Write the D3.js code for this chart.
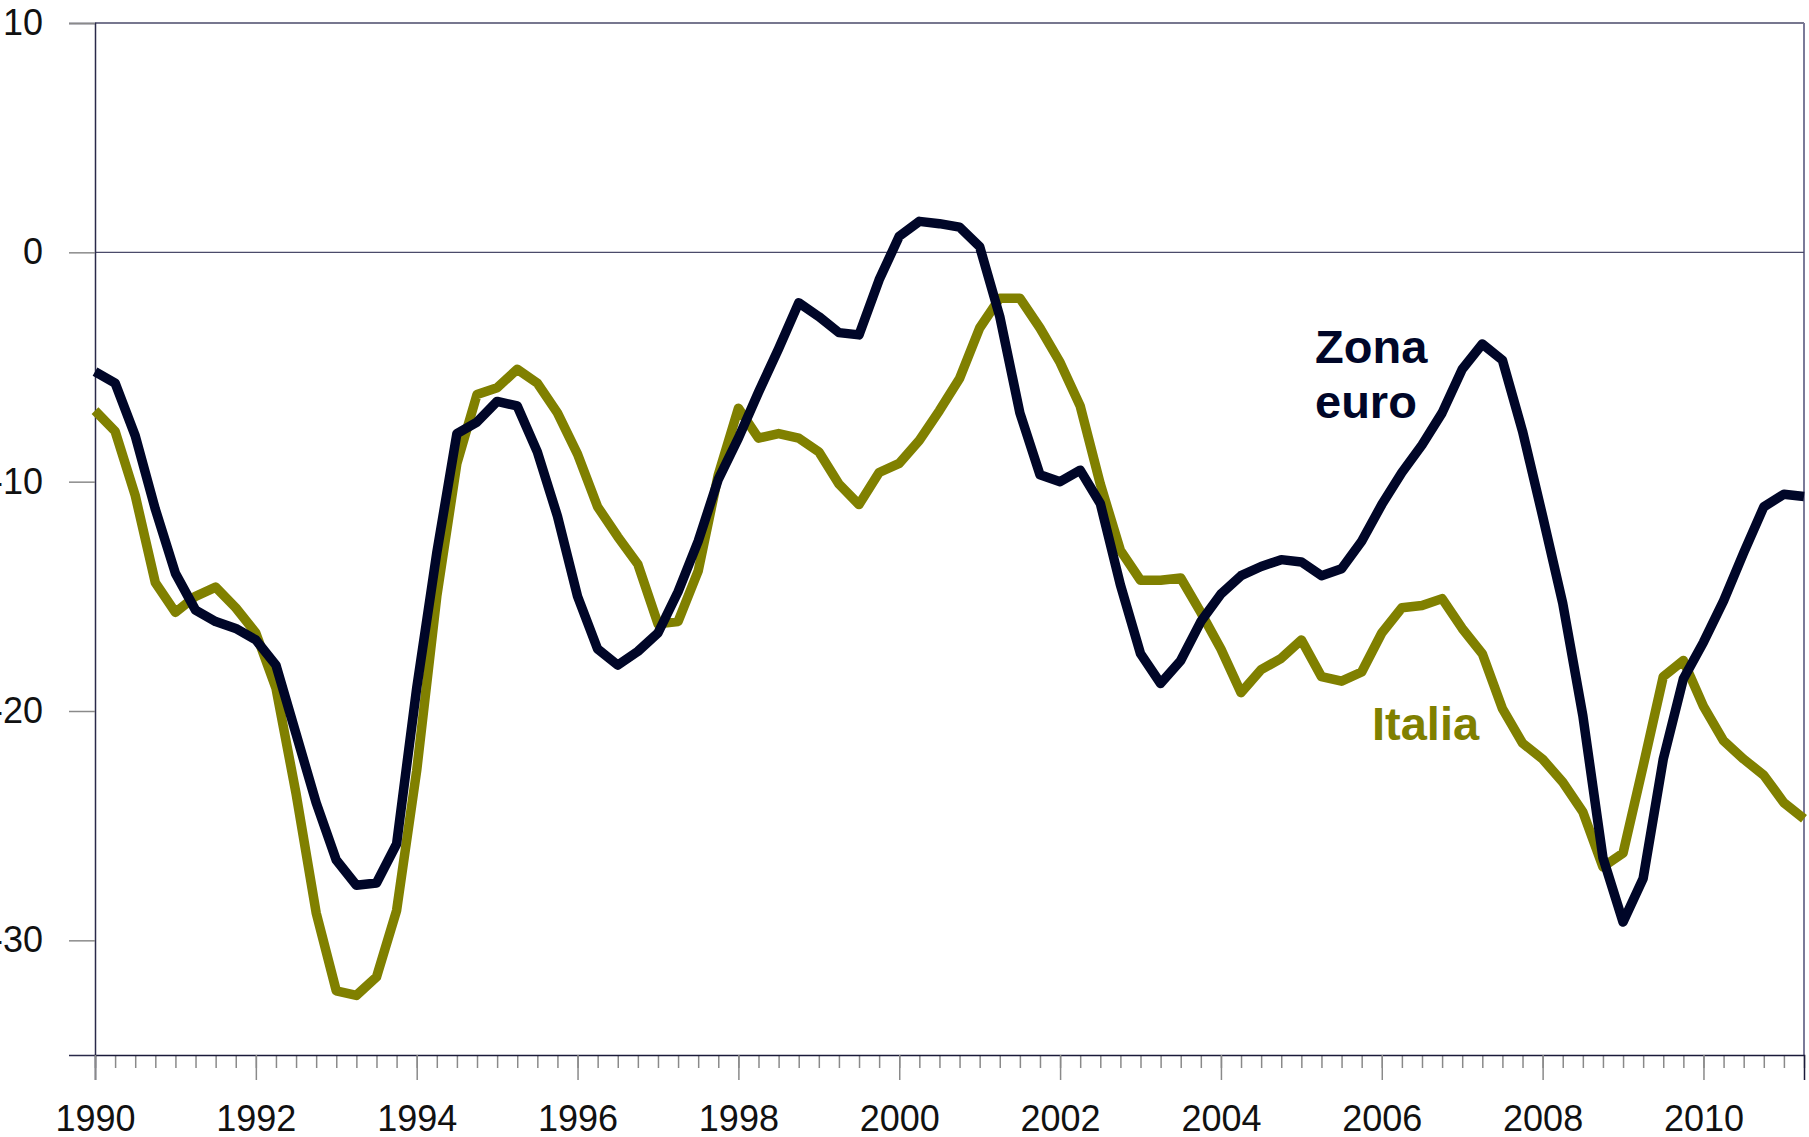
<!DOCTYPE html>
<html lang="it">

<head>
    <meta charset="UTF-8">
    <title>Zona euro - Italia</title>
    <script src="https://cdn.jsdelivr.net/npm/d3@7"></script>
    <style>
        body {
            margin: 0;
            background: #fff;
        }

        text {
            font-family: "Liberation Sans", Arial, sans-serif;
        }

        .serie {
            fill: none;
            stroke-width: 9.5;
            stroke-linejoin: round;
        }
    </style>
</head>

<body>
    <div id="chart"></div>
</body>

</html>
<script>
    // dati trimestrali, 1990T1 - 2011T2
    const startYear = 1990
    const zonaEuro = [
        -5.2, -5.7, -8.0, -11.2, -14.0, -15.6, -16.1, -16.4,
        -16.9, -18.0, -21.0, -24.0, -26.5, -27.6, -27.5, -25.8,
        -19.0, -13.1, -7.9, -7.4, -6.5, -6.7, -8.7, -11.5,
        -15.0, -17.3, -18.0, -17.4, -16.6, -14.8, -12.6, -9.9,
        -8.1, -6.1, -4.2, -2.2, -2.8, -3.5, -3.6, -1.2,
        0.7, 1.35, 1.25, 1.1, 0.25, -2.8, -7.0, -9.7,
        -10.0, -9.5, -10.95, -14.5, -17.5, -18.8, -17.8, -16.1,
        -14.9, -14.1, -13.7, -13.4, -13.5, -14.1, -13.8, -12.6,
        -11.0, -9.6, -8.4, -7.0, -5.1, -4.0, -4.7, -7.8,
        -11.5, -15.3, -20.2, -26.4, -29.2, -27.3, -22.1, -18.6,
        -17.0, -15.2, -13.1, -11.1, -10.55, -10.65
    ]
    const italia = [
        -6.9, -7.8, -10.6, -14.4, -15.7, -15.0, -14.6, -15.5,
        -16.6, -19.0, -23.6, -28.8, -32.2, -32.4, -31.6, -28.7,
        -22.6, -15.0, -9.2, -6.2, -5.9, -5.1, -5.7, -7.0,
        -8.8, -11.1, -12.4, -13.6, -16.2, -16.1, -13.9, -9.7,
        -6.8, -8.1, -7.9, -8.1, -8.7, -10.1, -11.0, -9.6,
        -9.2, -8.2, -6.9, -5.5, -3.3, -2.0, -2.0, -3.3,
        -4.8, -6.7, -10.1, -13.0, -14.3, -14.3, -14.2, -15.7,
        -17.3, -19.2, -18.2, -17.7, -16.9, -18.5, -18.7, -18.3,
        -16.6, -15.5, -15.4, -15.1, -16.4, -17.5, -19.9, -21.4,
        -22.1, -23.1, -24.4, -26.8, -26.2, -22.4, -18.5, -17.8,
        -19.8, -21.3, -22.1, -22.8, -24.0, -24.7
    ]
    const yTicks = [10, 0, -10, -20, -30]
    const yearLabels = ['1990', '1992', '1994', '1996', '1998', '2000', '2002', '2004', '2006', '2008', '2010']

    const width = 1809,
        height = 1137,
        margin = { left: 95, top: 23, right: 5, bottom: 82 },
        g_width = width - margin.left - margin.right,
        g_height = height - margin.top - margin.bottom

    const svg = d3.select('#chart').append('svg').attr('width', width).attr('height', height)
    const g = svg.append('g').attr('transform', `translate(${margin.left},${margin.top})`)

    const n = zonaEuro.length
    const scale_x = d3.scaleLinear().domain([0, n - 1]).range([0, g_width])
    const scale_y = d3.scaleLinear().domain([-35, 10]).range([g_height, 0])

    // bordo del riquadro (sopra e a destra)
    g.append('line').attr('x1', 0).attr('x2', g_width).attr('y1', 0).attr('y2', 0)
        .attr('stroke', '#4a4a6a').attr('stroke-width', 1.5)
    g.append('line').attr('x1', g_width).attr('x2', g_width).attr('y1', 0).attr('y2', g_height)
        .attr('stroke', '#7a7a98').attr('stroke-width', 2)

    // linea dello zero
    g.append('line').attr('x1', 0).attr('x2', g_width)
        .attr('y1', scale_y(0)).attr('y2', scale_y(0))
        .attr('stroke', '#4a4a6a').attr('stroke-width', 1.3)

    // asse y
    const yAxis = g.append('g')
        .call(d3.axisLeft(scale_y).tickValues(yTicks).tickSize(26).tickPadding(26).tickFormat(d => String(d)))
    yAxis.select('.domain').attr('stroke', '#2a2a4a').attr('stroke-width', 1.5)
    yAxis.selectAll('.tick line').attr('stroke', '#8a8a8a').attr('stroke-width', 1.5)
    yAxis.selectAll('.tick text').attr('font-size', 36).attr('fill', '#111')
        .style('font-family', '"Liberation Sans", Arial, sans-serif')

    // asse x: tacche trimestrali piccole, tacche biennali lunghe
    const quarters = d3.range(n)
    const minorAxis = g.append('g').attr('transform', `translate(0,${g_height})`)
        .call(d3.axisBottom(scale_x).tickValues(quarters).tickSize(13).tickFormat(''))
    minorAxis.select('.domain').remove()
    minorAxis.selectAll('.tick line').attr('stroke', '#8a8a8a').attr('stroke-width', 1.5)

    const majorIdx = yearLabels.map(y => (+y - startYear) * 4)
    const majorAxis = g.append('g').attr('transform', `translate(0,${g_height})`)
        .call(d3.axisBottom(scale_x).tickValues(majorIdx).tickSize(25).tickPadding(25)
            .tickFormat((d, i) => yearLabels[i]))
    majorAxis.select('.domain').attr('stroke', '#1a1a3a').attr('stroke-width', 1.5)
    majorAxis.selectAll('.tick line').attr('stroke', '#8a8a8a').attr('stroke-width', 1.5)
    majorAxis.selectAll('.tick text').attr('font-size', 36).attr('fill', '#111')
        .style('font-family', '"Liberation Sans", Arial, sans-serif')

    // serie
    const line_generator = d3.line().x((d, i) => scale_x(i)).y(d => scale_y(d))
    g.append('path').attr('class', 'serie').attr('stroke', '#808000').attr('d', line_generator(italia))
    g.append('path').attr('class', 'serie').attr('stroke', '#000628').attr('d', line_generator(zonaEuro))

    // etichette
    const lab = svg.append('g').attr('font-weight', 'bold').attr('font-size', 47)
    lab.append('text').attr('x', 1315).attr('y', 363).attr('fill', '#000628').text('Zona')
    lab.append('text').attr('x', 1315).attr('y', 418).attr('fill', '#000628').text('euro')
    lab.append('text').attr('x', 1372).attr('y', 740).attr('fill', '#808000').text('Italia')
</script>
